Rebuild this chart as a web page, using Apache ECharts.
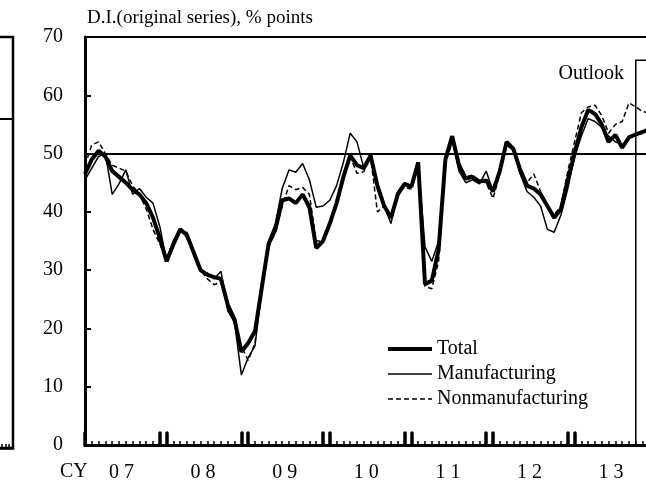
<!DOCTYPE html>
<html>
<head>
<meta charset="utf-8">
<script src="https://cdn.jsdelivr.net/npm/echarts@6/dist/echarts.min.js"></script>
<style>
html, body { margin: 0; padding: 0; background: #fff; }
#main { width: 646px; height: 493px; }
</style>
</head>
<body>
<div id="main"></div>
<script>
// year tick labels (CY), one per year
var yearLabels = ['0 7', '0 8', '0 9', '1 0', '1 1', '1 2', '1 3'];
var years = [2007, 2008, 2009, 2010, 2011, 2012, 2013];

// monthly categories Jan 2007 .. Dec 2013
var months = [];
years.forEach(function (y) {
    for (var mo = 1; mo <= 12; mo++) {
        months.push(y + '-' + (mo < 10 ? '0' + mo : mo));
    }
});

// D.I. values
var total = [
    46.5, 49, 50.5, 49.5, 47, 46, 45, 43.8, 43, 41.5, 39, 35.5,
    31.5, 34.5, 37, 36, 33, 30, 29.2, 28.8, 28.5, 24, 21.5, 16,
    17.5, 19.5, 27, 34.5, 37, 42, 42.3, 41.5, 43, 40.8, 33.8, 35,
    38, 41.5, 46, 49.7, 48, 47.5, 49.7, 44.5, 41, 39, 43, 44.8,
    44.3, 48.5, 27.6, 28.2, 33.5, 49, 53, 48, 45.7, 46, 45.2, 45.4,
    43.5, 47, 52, 50.8, 47.2, 44.5, 44, 43, 41, 39, 40.5, 45.5,
    50, 54.5, 57.5, 56.8, 55, 52, 53.2, 51, 52.8, 53.3, 53.7, 54.2
];
var manufacturing = [
    45.5, 47.5, 49.5, 50, 43, 44.8, 47.2, 43, 44, 42.5, 41.5, 37.5,
    31.5, 34, 36.5, 36.5, 32.5, 29.8, 29.5, 28.5, 29.8, 23, 21, 12,
    15, 17, 27, 35, 38, 44, 47.2, 46.8, 48.3, 45.5, 40.8, 41,
    42, 44.5, 48.5, 53.5, 52, 47.5, 49.5, 44, 41, 38, 43.5, 45,
    44.5, 48.5, 34, 31.5, 35, 49.5, 52.5, 47, 45, 45.5, 44.8, 47,
    43.5, 47.5, 51.5, 50.5, 46.5, 43.5, 42.5, 41, 37, 36.5, 39.5, 44,
    49.5, 53, 56, 55.5, 54.5, 53, 52, 51.5, 52.5, 53.3, 53.7, 54
];
var nonmanufacturing = [
    48, 51.5, 52, 50, 48, 47.5, 47, 44.5, 43, 40.5, 37, 34.5,
    32, 35, 37, 35.5, 33, 30, 28.5, 27.5, 28, 23.5, 21, 17,
    14.5, 17.5, 26.5, 34, 36.5, 41, 44.5, 43.8, 44.2, 43, 35, 35,
    38, 41, 45.5, 49.5, 46.6, 46.9, 49.4, 40, 41, 39.5, 43.5, 44.2,
    43.9, 47.8, 27.2, 26.8, 31.5, 48.3, 52, 48.5, 46, 46.3, 45.3, 45,
    42.3, 46.5, 51.8, 51, 47.5, 45, 46.5, 43.5, 41, 39.5, 41, 47,
    52, 57, 58, 58.3, 56.5, 53.5, 55, 55.5, 58.7, 58, 57.2, 57
];

var outlookStart = '2013-10';
var serif = '"Liberation Serif", "Times New Roman", serif';

var myChart = echarts.init(document.getElementById('main'));

var option = {
    animation: false,
    backgroundColor: '#fff',
    textStyle: { fontFamily: serif, color: '#000' },
    title: [
        {
            text: 'D.I.(original series), % points',
            left: 87, top: 9, padding: 0,
            textStyle: { fontFamily: serif, fontSize: 19, fontWeight: 'normal', color: '#000' }
        },
        {
            text: 'CY',
            left: 60, top: 462, padding: 0,
            textStyle: { fontFamily: serif, fontSize: 20, fontWeight: 'normal', color: '#000' }
        }
    ],
    legend: {
        orient: 'vertical',
        left: 386, top: 339, padding: 0,
        itemWidth: 44, itemHeight: 14, itemGap: 5,
        textStyle: { fontFamily: serif, fontSize: 20, color: '#000' },
        itemStyle: { opacity: 0 },
        data: [
            { name: 'Total', lineStyle: { width: 4 } },
            { name: 'Manufacturing', lineStyle: { width: 1.5 } },
            { name: 'Nonmanufacturing', lineStyle: { width: 1.5 } }
        ]
    },
    grid: [
        {
            left: 85, top: 37, width: 564.4, height: 408, outerBoundsMode: 'none',
            show: true, borderColor: '#000', borderWidth: 2
        },
        {
            // edge of the neighbouring chart on the left
            left: -300, top: 37, width: 313, height: 411, outerBoundsMode: 'none',
            show: true, borderColor: '#000', borderWidth: 2.5
        }
    ],
    xAxis: [
        {
            type: 'category', gridIndex: 0, data: months, boundaryGap: false, position: 'bottom',
            axisLine: { onZero: false, lineStyle: { color: '#000', width: 3 } },
            axisTick: { inside: true, length: 4, interval: 0, lineStyle: { color: '#000', width: 1.5 } },
            axisLabel: {
                interval: function (i) { return i % 12 === 5; },
                formatter: function (v, i) { return yearLabels[Math.floor(i / 12)]; },
                margin: 18, fontSize: 20, color: '#000', fontFamily: serif,
                padding: [0, 0, 0, 5]
            }
        },
        {
            // taller ticks at the turn of each year (Dec / Jan)
            type: 'category', gridIndex: 0, data: months, boundaryGap: false, position: 'bottom',
            axisLine: { show: false, onZero: false },
            axisTick: {
                inside: true, length: 12,
                interval: function (i) { return i % 12 === 0 || i % 12 === 11; },
                lineStyle: { color: '#000', width: 3.5, cap: 'round' }
            },
            axisLabel: { show: false }
        },
        {
            type: 'category', gridIndex: 1, data: months, boundaryGap: false, position: 'bottom',
            axisLine: { onZero: false, lineStyle: { color: '#000', width: 2.5 } },
            axisTick: { inside: true, length: 4, interval: 0, lineStyle: { color: '#000', width: 1.5 } },
            axisLabel: { show: false }
        }
    ],
    yAxis: [
        {
            type: 'value', gridIndex: 0, min: 0, max: 70, interval: 10,
            axisLine: { show: true, lineStyle: { color: '#000', width: 3 } },
            axisTick: { show: true, inside: true, length: 6, lineStyle: { color: '#000', width: 2 } },
            axisLabel: { margin: 22, fontSize: 20, color: '#000', fontFamily: serif },
            splitLine: { show: false }
        },
        {
            type: 'value', gridIndex: 1, min: -80, max: 20, interval: 80,
            axisLine: { show: false }, axisTick: { show: false }, axisLabel: { show: false },
            splitLine: { show: true, lineStyle: { color: '#000', width: 2 } }
        }
    ],
    series: [
        {
            name: 'Total', type: 'line', data: total, symbol: 'none',
            xAxisIndex: 0, yAxisIndex: 0, z: 3,
            lineStyle: { color: '#000', width: 4 },
            itemStyle: { color: '#000' },
            markLine: {
                silent: true, symbol: 'none', label: { show: false },
                lineStyle: { color: '#000', width: 2, type: 'solid' },
                data: [{ yAxis: 50 }]
            },
            markArea: {
                silent: true,
                itemStyle: { color: 'rgba(0,0,0,0)', borderColor: '#000', borderWidth: 1.5 },
                label: {
                    show: true, position: [-11, 14], align: 'right', verticalAlign: 'middle',
                    fontSize: 20, fontFamily: serif, color: '#000'
                },
                data: [[
                    { name: 'Outlook', xAxis: outlookStart, yAxis: 66 },
                    { xAxis: months[months.length - 1], yAxis: 0 }
                ]]
            }
        },
        {
            name: 'Manufacturing', type: 'line', data: manufacturing, symbol: 'none',
            xAxisIndex: 0, yAxisIndex: 0, z: 4,
            lineStyle: { color: '#000', width: 1.5 },
            itemStyle: { color: '#000' }
        },
        {
            name: 'Nonmanufacturing', type: 'line', data: nonmanufacturing, symbol: 'none',
            xAxisIndex: 0, yAxisIndex: 0, z: 4,
            lineStyle: { color: '#000', width: 1.5, type: [5, 3] },
            itemStyle: { color: '#000' }
        }
    ]
};

myChart.setOption(option);
</script>
</body>
</html>
